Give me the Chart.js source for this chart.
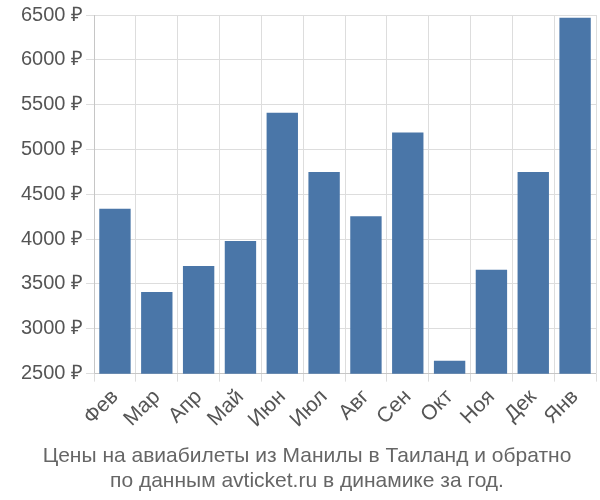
<!DOCTYPE html>
<html>
<head>
<meta charset="utf-8">
<script src="https://cdn.jsdelivr.net/npm/chart.js@4/dist/chart.umd.min.js"></script>
<style>
  body { margin: 0; background: #fff; }
  #wrap { width: 600px; height: 500px; }
</style>
</head>
<body>
<div id="wrap"><canvas id="chart"></canvas></div>
<script>
// Monthly prices
const months = ["Фев", "Мар", "Апр", "Май", "Июн", "Июл", "Авг", "Сен", "Окт", "Ноя", "Дек", "Янв"];
const prices = [4340, 3410, 3700, 3980, 5410, 4750, 4255, 5190, 2645, 3660, 4750, 6470];

const ctx = document.getElementById("chart").getContext("2d");
new Chart(ctx, {
  type: "bar",
  data: {
    labels: months,
    datasets: [{
      data: prices,
      backgroundColor: "#4a76a8",
      categoryPercentage: 0.75,
      barPercentage: 1,
    }],
  },
  options: {
    responsive: true,
    maintainAspectRatio: false,
    animation: false,
    layout: { padding: { top: 6, right: 4, left: 18, bottom: 0 } },
    plugins: {
      legend: { display: false },
      title: {
        display: true,
        position: "bottom",
        text: ["Цены на авиабилеты из Манилы в Таиланд и обратно", "по данным avticket.ru в динамике за год."],
        color: "#666",
        font: { family: "Liberation Sans", size: 21, weight: "normal" },
        padding: { top: 8, bottom: 6 },
      },
    },
    scales: {
      x: {
        grid: { color: "#ddd", offset: true },
        ticks: {
          color: "#555",
          font: { family: "Liberation Sans", size: 21 },
          maxRotation: 45,
          minRotation: 45,
        },
      },
      y: {
        min: 2500,
        max: 6500,
        grid: { color: "#ddd" },
        ticks: {
          stepSize: 500,
          color: "#555",
          font: { family: "Liberation Sans", size: 20 },
          callback: (v) => v + " ₽",
        },
      },
    },
  },
});
</script>
</body>
</html>
